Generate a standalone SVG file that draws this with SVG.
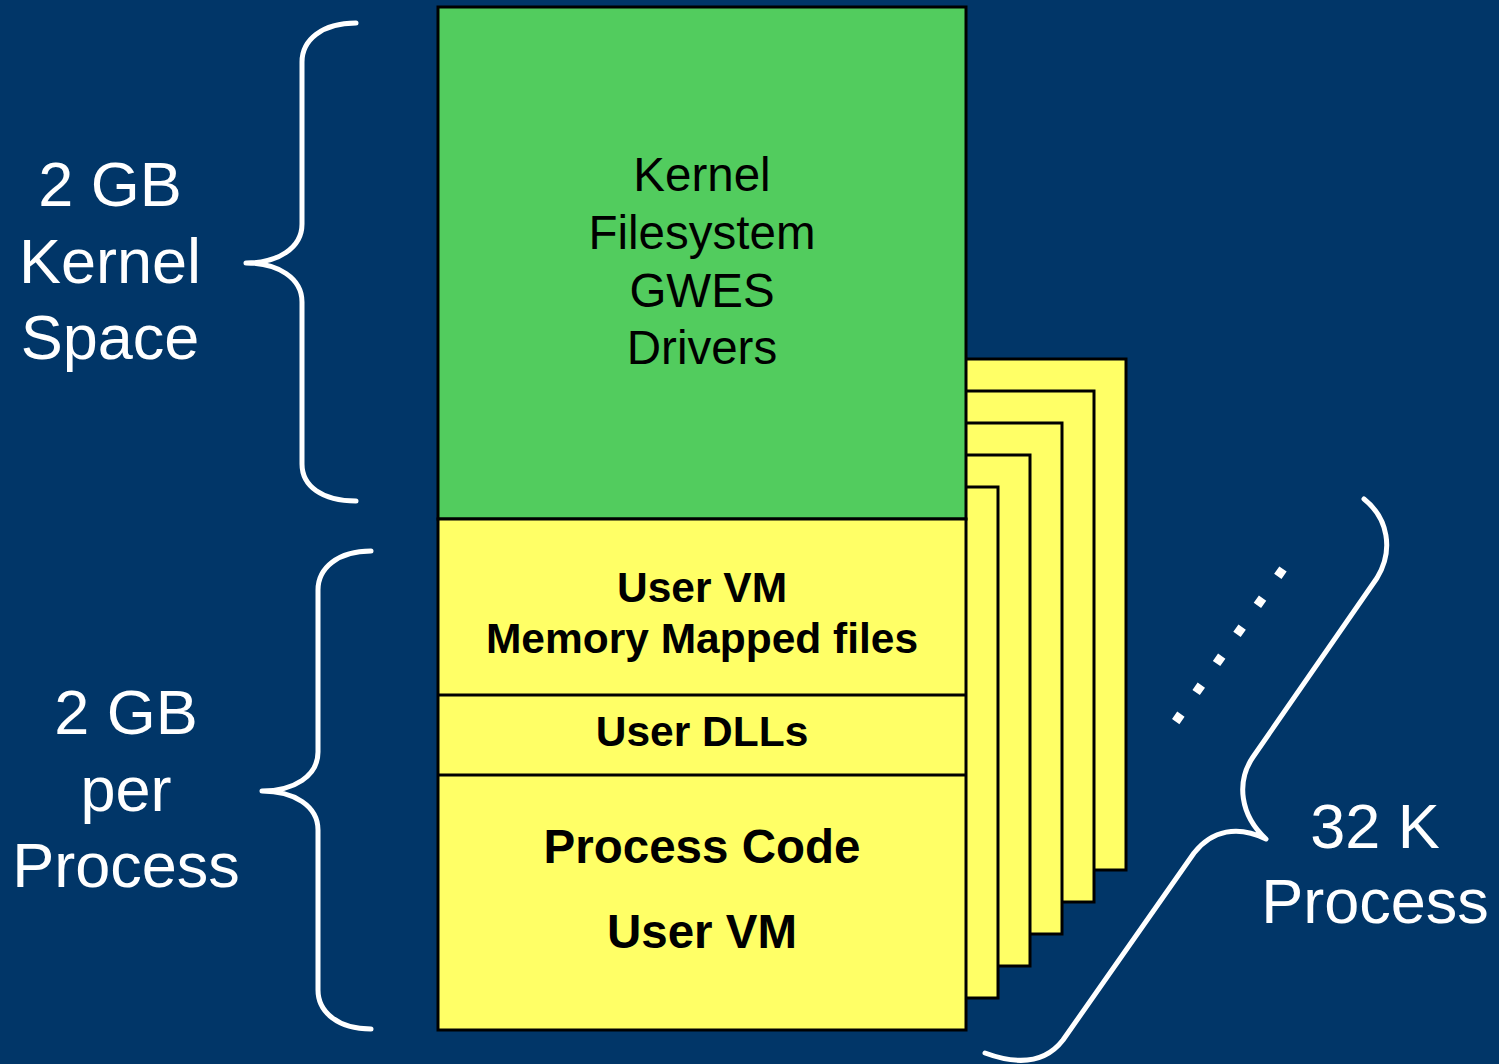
<svg xmlns="http://www.w3.org/2000/svg" width="1499" height="1064" viewBox="0 0 1499 1064">
  <style>
    .page { fill: #FFFF66; stroke: #000; stroke-width: 3; }
    .kern { fill: #52CC5E; stroke: #000; stroke-width: 3; }
    .div { stroke: #000; stroke-width: 3; }
    .brace { fill: none; stroke: #fff; stroke-width: 5; stroke-linecap: round; stroke-linejoin: round; }
    .side { font-family: "Liberation Sans", Arial, sans-serif; font-size: 63px; fill: #fff; text-anchor: middle; }
    .kt { font-family: "Liberation Sans", Arial, sans-serif; font-size: 47.5px; fill: #000; text-anchor: middle; }
    .ut { font-family: "Liberation Sans", Arial, sans-serif; font-weight: bold; font-size: 42.5px; fill: #000; text-anchor: middle; }
    .pt { font-family: "Liberation Sans", Arial, sans-serif; font-weight: bold; font-size: 47.5px; fill: #000; text-anchor: middle; }
  </style>
  <rect width="1499" height="1064" fill="#013668"/>

  <!-- stacked process address spaces behind the front one -->
  <g id="process-stack">
    <rect class="page" x="598" y="359" width="528" height="511"/>
    <rect class="page" x="566" y="391" width="528" height="511"/>
    <rect class="page" x="534" y="423" width="528" height="511"/>
    <rect class="page" x="502" y="455" width="528" height="511"/>
    <rect class="page" x="470" y="487" width="528" height="511"/>
  </g>

  <!-- front address space -->
  <g id="kernel-space">
    <rect class="kern" x="438" y="7" width="528" height="512"/>
    <text class="kt" x="702" y="191">Kernel</text>
    <text class="kt" x="702" y="249">Filesystem</text>
    <text class="kt" x="702" y="307">GWES</text>
    <text class="kt" x="702" y="364">Drivers</text>
  </g>
  <g id="user-space">
    <rect class="page" x="438" y="519" width="528" height="511"/>
    <line class="div" x1="438" y1="695" x2="966" y2="695"/>
    <line class="div" x1="438" y1="775" x2="966" y2="775"/>
  </g>
  <g id="user-vm">
    <text class="ut" x="702" y="602">User VM</text>
    <text class="ut" x="702" y="653">Memory Mapped files</text>
  </g>
  <g id="user-dlls">
    <text class="ut" x="702" y="746">User DLLs</text>
  </g>
  <g id="process-code">
    <text class="pt" x="702" y="863">Process Code</text>
    <text class="pt" x="702" y="948">User VM</text>
  </g>

  <!-- braces and ellipsis -->
  <g id="connectors">
    <path class="brace" d="M356,23 C322,23 302,40 302,62 L302,224 C302,248 278,263 246,263 C278,263 302,278 302,302 L302,464 C302,486 322,501 356,501"/>
    <path class="brace" d="M371,551 C338,551 318,568 318,590 L318,752 C318,776 294,791 262,791 C294,791 318,806 318,830 L318,990 C318,1012 338,1029 371,1029"/>
    <path class="brace" d="M1364,499 C1388,518 1394,550 1377,578 L1253,757 C1236,782 1240,815 1266,839 C1238,825 1212,830 1194,853 L1063,1040 C1043,1066 1012,1063 985,1053"/>
    <line x1="1283" y1="569" x2="1174" y2="724" stroke="#fff" stroke-width="9" stroke-dasharray="9 26.5"/>
  </g>

  <g id="kernel-label">
    <text class="side" x="110" y="206">2 GB</text>
    <text class="side" x="110" y="283">Kernel</text>
    <text class="side" x="110" y="359">Space</text>
  </g>
  <g id="process-label">
    <text class="side" x="126" y="734">2 GB</text>
    <text class="side" x="126" y="811">per</text>
    <text class="side" x="126" y="887">Process</text>
  </g>
  <g id="count-label">
    <text class="side" x="1375" y="848">32 K</text>
    <text class="side" x="1375" y="923">Process</text>
  </g>
</svg>
